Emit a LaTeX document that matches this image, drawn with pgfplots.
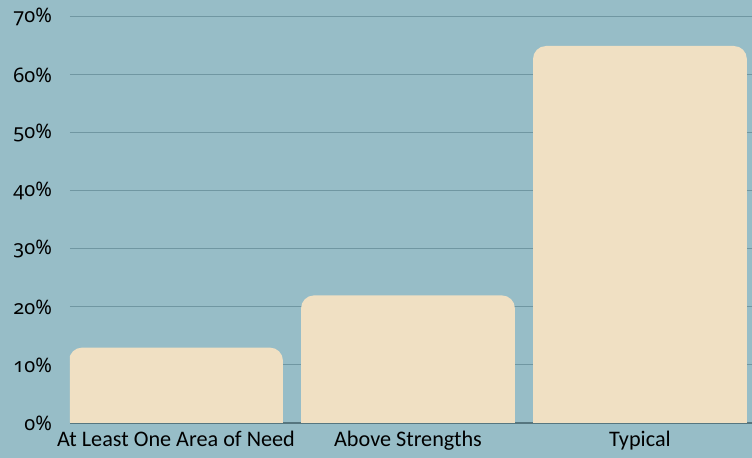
\documentclass[border=0pt]{standalone}
\usepackage{pgfplots}
\pgfplotsset{compat=1.18}
\usepackage{fontspec}
\setmainfont{Carlito}
\newfontfamily\numfont[Numbers=OldStyle]{Noto Sans}
\newcommand{\pc}[1]{{\numfont\fontsize{10}{12}\selectfont #1\%}}
\usetikzlibrary{backgrounds}
\definecolor{bgc}{HTML}{97BDC7}
\definecolor{barc}{HTML}{F0E0C3}
\definecolor{gridc}{HTML}{7097A2}
\definecolor{axc}{HTML}{56767F}
\begin{document}
\begin{tikzpicture}
\begin{axis}[name=ax, scale only axis, width=341pt, height=203pt,
  xmin=-0.457, xmax=2.483, ymin=0, ymax=70,
  ytick={0,10,...,70},
  yticklabels={\pc{0},\pc{10},\pc{20},\pc{30},\pc{40},\pc{50},\pc{60},\pc{70}},
  xtick={0,1,2},
  xticklabels={At Least One Area of Need, Above Strengths, Typical},
  axis x line*=bottom, axis y line*=left,
  y axis line style={draw=none},
  x axis line style={axc, line width=0.6pt},
  ymajorgrids, grid style={gridc, line width=0.5pt},
  major tick length=0pt,
  xticklabel style={font=\fontsize{11.1}{13}\selectfont, black, yshift=-0.5pt},
  yticklabel style={black, xshift=-5.5pt},
]
% At Least One Area of Need = 13, Above Strengths = 22, Typical = 65
\addplot[fill=barc, draw=none, rounded corners=6.5pt] coordinates {(-0.461,0) (-0.461,13) (0.461,13) (0.461,0)};
\addplot[fill=barc, draw=none, rounded corners=6.5pt] coordinates {(0.539,0) (0.539,22) (1.461,22) (1.461,0)};
\addplot[fill=barc, draw=none, rounded corners=6.5pt] coordinates {(1.539,0) (1.539,65) (2.461,65) (2.461,0)};
\end{axis}
\pgfresetboundingbox
\begin{scope}[on background layer]
\fill[bgc] ([shift={(-35pt,-17.5pt)}]ax.south west) rectangle ([shift={(0pt,8.5pt)}]ax.north east);
\end{scope}
\end{tikzpicture}
\end{document}
